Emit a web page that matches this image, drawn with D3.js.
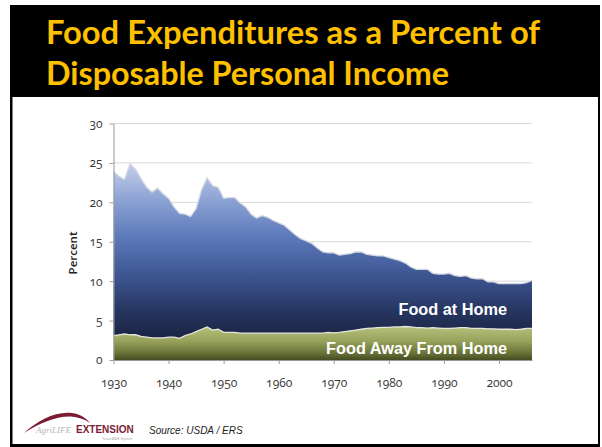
<!DOCTYPE html>
<html><head><meta charset="utf-8">
<script src="https://cdn.jsdelivr.net/npm/d3@7"></script>
<style>
body{margin:0;background:#fff}
svg{display:block}
.tick text{font-family:"Open Sans",sans-serif;font-variant-numeric:oldstyle-nums;font-feature-settings:"onum" 1;}
</style>
</head><body><svg id="chart" width="602" height="447"></svg>
<script>
// Share of disposable personal income spent on food, 1930-2006
const firstYear = 1930, lastYear = 2006;
const years = d3.range(firstYear, lastYear + 1);

const foodAwayFromHome = [
  3.1, 3.2, 3.3, 3.2, 3.2, 3.0, 2.9, 2.8, 2.8, 2.8,
  2.9, 2.9, 2.75, 3.1, 3.3, 3.6, 3.9, 4.2, 3.8, 3.9,
  3.5, 3.5, 3.5, 3.4, 3.4, 3.4, 3.4, 3.4, 3.4, 3.4,
  3.4, 3.4, 3.4, 3.4, 3.4, 3.4, 3.4, 3.4, 3.4, 3.5,
  3.45, 3.5, 3.6, 3.7, 3.8, 3.9, 4.0, 4.05, 4.1, 4.15,
  4.15, 4.2, 4.2, 4.25, 4.2, 4.1, 4.1, 4.05, 4.1, 4.05,
  4.0, 4.0, 4.05, 4.1, 4.1, 4.0, 4.0, 4.0, 3.95, 3.95,
  3.9, 3.9, 3.9, 3.85, 3.9, 4.0, 4.0
];

const foodAtHome = [
  20.8, 20.1, 19.6, 21.7, 21.0, 20.0, 19.0, 18.5, 19.0, 18.3,
  17.6, 16.5, 15.85, 15.4, 14.9, 15.6, 17.7, 18.9, 18.3, 18.0,
  17.0, 17.1, 17.1, 16.5, 16.0, 15.1, 14.6, 14.9, 14.7, 14.3,
  14.0, 13.7, 13.1, 12.5, 12.0, 11.7, 11.4, 10.8, 10.3, 10.1,
  10.15, 9.8, 9.8, 9.8, 9.9, 9.8, 9.4, 9.25, 9.1, 9.05,
  8.85, 8.6, 8.4, 8.05, 7.6, 7.4, 7.4, 7.45, 6.9, 6.85,
  6.9, 7.0, 6.65, 6.5, 6.6, 6.4, 6.3, 6.3, 5.95, 5.95,
  5.8, 5.8, 5.8, 5.85, 5.8, 5.8, 6.1
];

const yTicks = [0, 5, 10, 15, 20, 25, 30];
const xTicks = [1930, 1940, 1950, 1960, 1970, 1980, 1990, 2000];
const seriesKeys = ["away", "home"];
const seriesLabels = { away: "Food Away From Home", home: "Food at Home" };
const titleLines = ["Food Expenditures as a Percent of", "Disposable Personal Income"];
const yAxisTitle = "Percent";
const sourceNote = "Source: USDA / ERS";

const rows = years.map((yr, i) => ({ year: yr, away: foodAwayFromHome[i], home: foodAtHome[i] }));

const svg = d3.select("#chart");

// slide frame
svg.append("rect").attr("x", 10).attr("y", 5).attr("width", 590).attr("height", 442).attr("fill", "#000");
svg.append("rect").attr("x", 12.5).attr("y", 97).attr("width", 585.5).attr("height", 347).attr("fill", "#fff");

// title
const title = svg.append("g").attr("font-family", "Lato, 'Open Sans', sans-serif")
  .attr("font-weight", 700).attr("font-size", 33).attr("fill", "#FFC000");
title.append("text").attr("x", 46).attr("y", 44).attr("textLength", 494)
  .attr("lengthAdjust", "spacingAndGlyphs").text(titleLines[0]);
title.append("text").attr("x", 46).attr("y", 85).attr("textLength", 403)
  .attr("lengthAdjust", "spacingAndGlyphs").text(titleLines[1]);

// scales
const x = d3.scaleLinear().domain([firstYear, lastYear]).range([113.5, 532]);
const y = d3.scaleLinear().domain([0, 30]).range([360, 123.5]);

// gradients
const defs = svg.append("defs");
const gHome = defs.append("linearGradient").attr("id", "gradHome")
  .attr("gradientUnits", "userSpaceOnUse").attr("x1", 0).attr("x2", 0)
  .attr("y1", y(25)).attr("y2", y(3));
[[0, "#c6d1ea"], [0.2, "#8fa5d5"], [0.42, "#5d7abb"], [0.65, "#3d5692"], [0.85, "#273661"], [1, "#1b2444"]]
  .forEach(([o, c]) => gHome.append("stop").attr("offset", o).attr("stop-color", c));
const gAway = defs.append("linearGradient").attr("id", "gradAway")
  .attr("gradientUnits", "userSpaceOnUse").attr("x1", 0).attr("x2", 0)
  .attr("y1", y(4.3)).attr("y2", y(0));
[[0, "#b8c27e"], [0.45, "#96a15a"], [0.8, "#687236"], [1, "#454b22"]]
  .forEach(([o, c]) => gAway.append("stop").attr("offset", o).attr("stop-color", c));

// gridlines
svg.append("g").selectAll("line").data(yTicks.filter(t => t > 0)).join("line")
  .attr("x1", x(firstYear)).attr("x2", x(lastYear))
  .attr("y1", d => y(d)).attr("y2", d => y(d))
  .attr("stroke", "#d9d9d9").attr("stroke-width", 1);

// stacked areas
const stacked = d3.stack().keys(seriesKeys)(rows);
const area = d3.area().x(d => x(d.data.year)).y0(d => y(d[0])).y1(d => y(d[1]));
const edge = d3.line().x(d => x(d.data.year)).y(d => y(d[1]));
const fills = { away: "url(#gradAway)", home: "url(#gradHome)" };

svg.append("g").selectAll("path").data(stacked).join("path")
  .attr("d", area).attr("fill", s => fills[s.key]);
svg.append("g").selectAll("path").data(stacked).join("path")
  .attr("d", edge).attr("fill", "none")
  .attr("stroke", s => s.key === "away" ? "#e4e6dc" : "#d4d8e2")
  .attr("stroke-width", 1.3);

// axes
const axisColor = "#9a9a9a";
const yAxis = svg.append("g").attr("transform", `translate(${x(firstYear)},0)`)
  .call(d3.axisLeft(y).tickValues(yTicks).tickSize(4).tickSizeOuter(0).tickPadding(7));
const xAxis = svg.append("g").attr("transform", `translate(0,${y(0)})`)
  .call(d3.axisBottom(x).tickValues(xTicks).tickFormat(d3.format("d")).tickSize(4).tickSizeOuter(0).tickPadding(14));
[yAxis, xAxis].forEach(a => {
  a.select(".domain").attr("stroke", axisColor);
  a.selectAll(".tick line").attr("stroke", axisColor);
  a.selectAll(".tick text").attr("fill", "#3a3a3a").attr("font-size", 12);
});

svg.append("text").attr("transform", "translate(77,253) rotate(-90)")
  .attr("text-anchor", "middle").attr("font-family", "'Open Sans', sans-serif")
  .attr("font-weight", 600).attr("font-size", 11.5).attr("fill", "#222").text(yAxisTitle);

// series labels inside the areas
const lab = svg.append("g").attr("font-family", "'Liberation Sans', Arial, sans-serif")
  .attr("font-weight", 700).attr("font-size", 16.3).attr("fill", "#fff").attr("text-anchor", "end");
lab.append("text").attr("x", 507).attr("y", 314.5).text(seriesLabels.home);
lab.append("text").attr("x", 507).attr("y", 353.5).text(seriesLabels.away);

// footer: extension logo and source
const logo = svg.append("g");
logo.append("path")
  .attr("d", "M24,433 C38,420 56,411 72,413 C80,414 86,418 90,423 C84,419 78,417 71,416.5 C56,416 40,423 24,433 Z")
  .attr("fill", "#7b1c33");
logo.append("text").attr("x", 36).attr("y", 433).attr("font-family", "'Liberation Serif', serif")
  .attr("font-style", "italic").attr("font-size", 9).attr("fill", "#b9b2b4").text("AgriLIFE");
logo.append("text").attr("x", 76).attr("y", 433).attr("font-family", "'Liberation Sans', Arial, sans-serif")
  .attr("font-weight", 700).attr("font-size", 10).attr("fill", "#7b1c33").text("EXTENSION");
logo.append("text").attr("x", 102).attr("y", 440).attr("font-family", "'Liberation Sans', Arial, sans-serif")
  .attr("font-size", 3.5).attr("fill", "#aaa").text("Texas A&M System");

svg.append("text").attr("x", 149).attr("y", 434).attr("font-family", "'Liberation Sans', Arial, sans-serif")
  .attr("font-style", "italic").attr("font-size", 10).attr("fill", "#222").text(sourceNote);
</script>
</body></html>
